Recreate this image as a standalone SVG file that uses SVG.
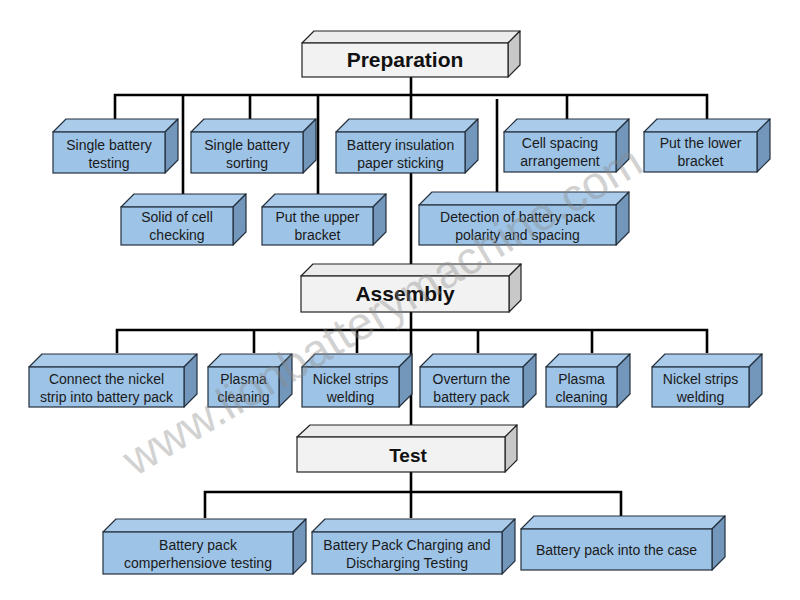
<svg xmlns="http://www.w3.org/2000/svg" width="800" height="600" viewBox="0 0 800 600">
<style>
.front{fill:#9dc3e6;stroke:#24303d;stroke-width:1.2}
.top{fill:#abcbea;stroke:#24303d;stroke-width:1.2;stroke-linejoin:round}
.side{fill:#7396bb;stroke:#24303d;stroke-width:1.2;stroke-linejoin:round}
.hfront{fill:#f2f2f2;stroke:#222;stroke-width:1.2}
.htop{fill:#ececec;stroke:#222;stroke-width:1.2;stroke-linejoin:round}
.hside{fill:#c8c8c8;stroke:#222;stroke-width:1.2;stroke-linejoin:round}
.lbl{font-family:"Liberation Sans",Arial,sans-serif;font-size:14px;fill:#1a1a1a;text-anchor:middle}
.hdr{font-family:"Liberation Sans",Arial,sans-serif;font-size:21px;font-weight:bold;fill:#111;text-anchor:middle}
.conn{fill:none;stroke:#000;stroke-width:2.6}
.wm{font-family:"Liberation Sans",Arial,sans-serif;font-size:46px;fill:#8a8a8a;opacity:0.38;text-anchor:middle}
</style>
<rect width="800" height="600" fill="#fff"/>
<g id="connectors">
<path class="conn" d="M411 77V518"/>
<path class="conn" d="M115 119V95H707V119M183 95V194M250 95V119M318 95V194M567 95V119M497 99V192"/>
<path class="conn" d="M117 353V330H707V353M254 330V353M357 330V353M478 330V353M592 330V353"/>
<path class="conn" d="M205 518V492H621V517"/>
</g>
<g id="preparation">
<polygon class="htop" points="302,43 314,31 520,31 508,43"/>
<polygon class="hside" points="508,43 520,31 520,65 508,77"/>
<rect class="hfront" x="302" y="43" width="206" height="34"/>
<text class="hdr" x="405" y="67">Preparation</text>
</g>
<g id="single-battery-testing">
<polygon class="top" points="53,132 66,119 178,119 165,132"/>
<polygon class="side" points="165,132 178,119 178,160 165,173"/>
<rect class="front" x="53" y="132" width="112" height="41"/>
<text class="lbl" x="109" y="149.5">Single battery</text>
<text class="lbl" x="109" y="167.5">testing</text>
</g>
<g id="single-battery-sorting">
<polygon class="top" points="191,132 204,119 316,119 303,132"/>
<polygon class="side" points="303,132 316,119 316,160 303,173"/>
<rect class="front" x="191" y="132" width="112" height="41"/>
<text class="lbl" x="247" y="149.5">Single battery</text>
<text class="lbl" x="247" y="167.5">sorting</text>
</g>
<g id="battery-insulation">
<polygon class="top" points="336,132 349,119 478,119 465,132"/>
<polygon class="side" points="465,132 478,119 478,160 465,173"/>
<rect class="front" x="336" y="132" width="129" height="41"/>
<text class="lbl" x="400.5" y="149.5">Battery insulation</text>
<text class="lbl" x="400.5" y="167.5">paper sticking</text>
</g>
<g id="cell-spacing">
<polygon class="top" points="504,132 517,119 629,119 616,132"/>
<polygon class="side" points="616,132 629,119 629,159 616,172"/>
<rect class="front" x="504" y="132" width="112" height="40"/>
<text class="lbl" x="560" y="148">Cell spacing</text>
<text class="lbl" x="560" y="166">arrangement</text>
</g>
<g id="lower-bracket">
<polygon class="top" points="644,132 657,119 770,119 757,132"/>
<polygon class="side" points="757,132 770,119 770,159 757,172"/>
<rect class="front" x="644" y="132" width="113" height="40"/>
<text class="lbl" x="700.5" y="148">Put the lower</text>
<text class="lbl" x="700.5" y="166">bracket</text>
</g>
<g id="solid-of-cell">
<polygon class="top" points="121,207 134,194 246,194 233,207"/>
<polygon class="side" points="233,207 246,194 246,232 233,245"/>
<rect class="front" x="121" y="207" width="112" height="38"/>
<text class="lbl" x="177" y="222">Solid of cell</text>
<text class="lbl" x="177" y="240">checking</text>
</g>
<g id="upper-bracket">
<polygon class="top" points="262,207 275,194 386,194 373,207"/>
<polygon class="side" points="373,207 386,194 386,232 373,245"/>
<rect class="front" x="262" y="207" width="111" height="38"/>
<text class="lbl" x="317.5" y="222">Put the upper</text>
<text class="lbl" x="317.5" y="240">bracket</text>
</g>
<g id="detection">
<polygon class="top" points="419,205 432,192 629,192 616,205"/>
<polygon class="side" points="616,205 629,192 629,232 616,245"/>
<rect class="front" x="419" y="205" width="197" height="40"/>
<text class="lbl" x="517.5" y="222">Detection of battery pack</text>
<text class="lbl" x="517.5" y="240">polarity and spacing</text>
</g>
<g id="assembly">
<polygon class="htop" points="301,276 313,264 521,264 509,276"/>
<polygon class="hside" points="509,276 521,264 521,300 509,312"/>
<rect class="hfront" x="301" y="276" width="208" height="36"/>
<text class="hdr" x="405" y="301">Assembly</text>
</g>
<g id="connect-nickel">
<polygon class="top" points="29,367 42,354 197,354 184,367"/>
<polygon class="side" points="184,367 197,354 197,394 184,407"/>
<rect class="front" x="29" y="367" width="155" height="40"/>
<text class="lbl" x="106.5" y="384">Connect the nickel</text>
<text class="lbl" x="106.5" y="402">strip into battery pack</text>
</g>
<g id="plasma-1">
<polygon class="top" points="208,367 221,354 292,354 279,367"/>
<polygon class="side" points="279,367 292,354 292,394 279,407"/>
<rect class="front" x="208" y="367" width="71" height="40"/>
<text class="lbl" x="243.5" y="384">Plasma</text>
<text class="lbl" x="243.5" y="402">cleaning</text>
</g>
<g id="nickel-welding-1">
<polygon class="top" points="302,367 315,354 412,354 399,367"/>
<polygon class="side" points="399,367 412,354 412,394 399,407"/>
<rect class="front" x="302" y="367" width="97" height="40"/>
<text class="lbl" x="350.5" y="384">Nickel strips</text>
<text class="lbl" x="350.5" y="402">welding</text>
</g>
<g id="overturn">
<polygon class="top" points="420,367 433,354 536,354 523,367"/>
<polygon class="side" points="523,367 536,354 536,394 523,407"/>
<rect class="front" x="420" y="367" width="103" height="40"/>
<text class="lbl" x="471.5" y="384">Overturn the</text>
<text class="lbl" x="471.5" y="402">battery pack</text>
</g>
<g id="plasma-2">
<polygon class="top" points="546,367 559,354 630,354 617,367"/>
<polygon class="side" points="617,367 630,354 630,394 617,407"/>
<rect class="front" x="546" y="367" width="71" height="40"/>
<text class="lbl" x="581.5" y="384">Plasma</text>
<text class="lbl" x="581.5" y="402">cleaning</text>
</g>
<g id="nickel-welding-2">
<polygon class="top" points="652,367 665,354 762,354 749,367"/>
<polygon class="side" points="749,367 762,354 762,394 749,407"/>
<rect class="front" x="652" y="367" width="97" height="40"/>
<text class="lbl" x="700.5" y="384">Nickel strips</text>
<text class="lbl" x="700.5" y="402">welding</text>
</g>
<g id="test">
<polygon class="htop" points="297,437 310,425 517,425 505,437"/>
<polygon class="hside" points="505,437 517,425 517,460 505,472"/>
<rect class="hfront" x="297" y="437" width="208" height="35"/>
<text class="hdr" x="408" y="462" style="font-size:19px">Test</text>
</g>
<g id="comprehensive-testing">
<polygon class="top" points="103,532 116,519 306,519 293,532"/>
<polygon class="side" points="293,532 306,519 306,561 293,574"/>
<rect class="front" x="103" y="532" width="190" height="42"/>
<text class="lbl" x="198" y="550">Battery pack</text>
<text class="lbl" x="198" y="568">comperhensiove testing</text>
</g>
<g id="charging-testing">
<polygon class="top" points="312,532 325,519 515,519 502,532"/>
<polygon class="side" points="502,532 515,519 515,561 502,574"/>
<rect class="front" x="312" y="532" width="190" height="42"/>
<text class="lbl" x="407" y="550">Battery Pack Charging and</text>
<text class="lbl" x="407" y="568">Discharging Testing</text>
</g>
<g id="into-case">
<polygon class="top" points="521,529 534,516 725,516 712,529"/>
<polygon class="side" points="712,529 725,516 725,557 712,570"/>
<rect class="front" x="521" y="529" width="191" height="41"/>
<text class="lbl" x="616.5" y="555">Battery pack into the case</text>
</g>
<text class="wm" x="382" y="326" transform="rotate(-31 382 310)">www.lionbatterymachine.com</text>
</svg>
